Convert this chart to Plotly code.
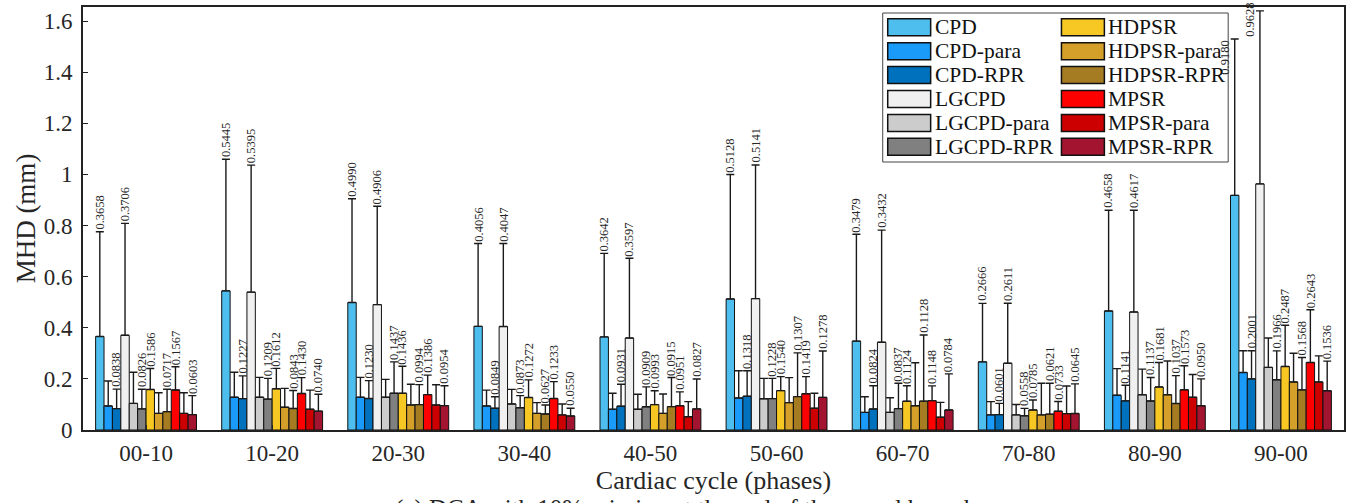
import plotly.graph_objects as go

categories = ["00-10", "10-20", "20-30", "30-40", "40-50", "50-60", "60-70", "70-80", "80-90", "90-00"]

series_names = ["CPD", "CPD-para", "CPD-RPR", "LGCPD", "LGCPD-para", "LGCPD-RPR",
                "HDPSR", "HDPSR-para", "HDPSR-RPR", "MPSR", "MPSR-para", "MPSR-RPR"]

series_colors = ["#4DBEEE", "#1A9BFA", "#0072BD", "#F0F0F0", "#CCCCCC", "#808080",
                 "#F7C823", "#D4A02A", "#A67C22", "#FF0000", "#CC0000", "#A2142F"]

# mean MHD values (bar heights)
cpd        = [0.3658, 0.5445, 0.4990, 0.4056, 0.3642, 0.5128, 0.3479, 0.2666, 0.4658, 0.9180]
cpd_para   = [0.094, 0.128, 0.128, 0.094, 0.081, 0.125, 0.069, 0.059, 0.136, 0.225]
cpd_rpr    = [0.0838, 0.1227, 0.1230, 0.0849, 0.0931, 0.1318, 0.0824, 0.0601, 0.1141, 0.2001]
lgcpd      = [0.3706, 0.5395, 0.4906, 0.4047, 0.3597, 0.5141, 0.3432, 0.2611, 0.4617, 0.9628]
lgcpd_para = [0.104, 0.128, 0.128, 0.102, 0.081, 0.122, 0.069, 0.059, 0.138, 0.245]
lgcpd_rpr  = [0.0826, 0.1209, 0.1437, 0.0873, 0.0909, 0.1228, 0.0837, 0.0558, 0.1137, 0.1966]
hdpsr      = [0.1586, 0.1612, 0.1436, 0.1272, 0.0993, 0.1540, 0.1124, 0.0785, 0.1681, 0.2487]
hdpsr_para = [0.065, 0.089, 0.098, 0.065, 0.065, 0.107, 0.095, 0.059, 0.138, 0.188]
hdpsr_rpr  = [0.0717, 0.0843, 0.0994, 0.0627, 0.0915, 0.1307, 0.1128, 0.0621, 0.1037, 0.1568]
mpsr       = [0.1567, 0.1430, 0.1386, 0.1233, 0.0951, 0.1419, 0.1148, 0.0733, 0.1573, 0.2643]
mpsr_para  = [0.065, 0.081, 0.098, 0.059, 0.052, 0.085, 0.050, 0.064, 0.128, 0.188]
mpsr_rpr   = [0.0603, 0.0740, 0.0954, 0.0550, 0.0827, 0.1278, 0.0784, 0.0645, 0.0950, 0.1536]

# standard deviations (upper error bars)
cpd_sd        = [0.410, 0.515, 0.406, 0.324, 0.327, 0.487, 0.418, 0.229, 0.394, 0.612]
cpd_para_sd   = [0.098, 0.098, 0.078, 0.062, 0.063, 0.107, 0.061, 0.052, 0.104, 0.085]
cpd_rpr_sd    = [0.076, 0.089, 0.070, 0.045, 0.086, 0.100, 0.091, 0.044, 0.061, 0.110]
lgcpd_sd      = [0.438, 0.497, 0.385, 0.325, 0.312, 0.523, 0.439, 0.235, 0.398, 0.677]
lgcpd_para_sd = [0.122, 0.078, 0.070, 0.057, 0.059, 0.080, 0.057, 0.041, 0.100, 0.115]
lgcpd_rpr_sd  = [0.077, 0.081, 0.123, 0.047, 0.078, 0.079, 0.099, 0.029, 0.092, 0.113]
hdpsr_sd      = [0.082, 0.080, 0.106, 0.069, 0.054, 0.055, 0.061, 0.039, 0.096, 0.161]
hdpsr_para_sd = [0.081, 0.074, 0.081, 0.042, 0.076, 0.098, 0.168, 0.124, 0.132, 0.112]
hdpsr_rpr_sd  = [0.088, 0.070, 0.078, 0.035, 0.114, 0.171, 0.259, 0.121, 0.109, 0.127]
mpsr_sd       = [0.091, 0.062, 0.076, 0.066, 0.054, 0.067, 0.058, 0.038, 0.094, 0.206]
mpsr_para_sd  = [0.081, 0.075, 0.079, 0.043, 0.059, 0.059, 0.058, 0.108, 0.089, 0.102]
mpsr_rpr_sd   = [0.074, 0.066, 0.078, 0.030, 0.117, 0.181, 0.141, 0.116, 0.105, 0.116]

means = [cpd, cpd_para, cpd_rpr, lgcpd, lgcpd_para, lgcpd_rpr,
         hdpsr, hdpsr_para, hdpsr_rpr, mpsr, mpsr_para, mpsr_rpr]
sds = [cpd_sd, cpd_para_sd, cpd_rpr_sd, lgcpd_sd, lgcpd_para_sd, lgcpd_rpr_sd,
       hdpsr_sd, hdpsr_para_sd, hdpsr_rpr_sd, mpsr_sd, mpsr_para_sd, mpsr_rpr_sd]

labeled = [True, False, True, True, False, True, True, False, True, True, False, True]

y_ticks = [0, 0.2, 0.4, 0.6, 0.8, 1.0, 1.2, 1.4, 1.6]
y_tick_text = ["0", "0.2", "0.4", "0.6", "0.8", "1", "1.2", "1.4", "1.6"]

FONT = "Liberation Serif, Times New Roman, serif"
TXT = "#262626"

# layout geometry (pixels)
W, H = 1349, 503
ML, MR, MT, MB = 83, 3, 7, 73
PW = W - ML - MR
PH = H - MT - MB
Y_MAX = 1.655


def px_x(p):
    return (p - ML) / PW


def px_y(p):
    return (H - MB - p) / PH


fig = go.Figure()
for name, color, m, s in zip(series_names, series_colors, means, sds):
    fig.add_trace(go.Bar(
        x=categories, y=m, name=name,
        marker=dict(color=color, line=dict(color="#111111", width=1)),
        error_y=dict(type="data", array=s, arrayminus=[0] * len(s), symmetric=False,
                     color="#1a1a1a", thickness=1.4, width=4),
        showlegend=False,
    ))

n = len(series_names)
group_w = 0.8
bw = group_w / n
annotations = []
for j in range(n):
    if not labeled[j]:
        continue
    for i in range(len(categories)):
        xc = i - group_w / 2 + (j + 0.5) * bw
        top = means[j][i] + sds[j][i]
        txt = "%.4f" % means[j][i]
        if top + 0.14 > Y_MAX:
            annotations.append(dict(x=xc, y=top, xref="x", yref="y", text=txt, textangle=-90,
                                    showarrow=False, xanchor="right", yanchor="top", xshift=-1,
                                    yshift=10 if top > 1.6 else 0,
                                    font=dict(family=FONT, size=12.5, color=TXT)))
        else:
            annotations.append(dict(x=xc, y=top, xref="x", yref="y", text=txt, textangle=-90,
                                    showarrow=False, xanchor="center", yanchor="bottom",
                                    font=dict(family=FONT, size=12.5, color=TXT)))

# manual legend (two columns)
shapes = []
leg_x0, leg_x1, leg_y0, leg_y1 = 884, 1230, 13, 162
shapes.append(dict(type="rect", xref="paper", yref="paper",
                   x0=px_x(leg_x0), x1=px_x(leg_x1), y0=px_y(leg_y1), y1=px_y(leg_y0),
                   fillcolor="white", line=dict(color="#444444", width=1)))
col_sw_x = [889, 1063]
sw_w, sw_h = 43, 17
row0, pitch = 27.3, 23.9
for k, (name, color) in enumerate(zip(series_names, series_colors)):
    col, row = divmod(k, 6)
    cy = row0 + row * pitch
    sx = col_sw_x[col]
    shapes.append(dict(type="rect", xref="paper", yref="paper",
                       x0=px_x(sx), x1=px_x(sx + sw_w), y0=px_y(cy + sw_h / 2), y1=px_y(cy - sw_h / 2),
                       fillcolor=color, line=dict(color="#111111", width=1.5)))
    annotations.append(dict(x=px_x(sx + sw_w + 2), y=px_y(cy), xref="paper", yref="paper",
                            text=name, showarrow=False, xanchor="left", yanchor="middle",
                            font=dict(family=FONT, size=21.5, color="#111111")))

# caption (partially cut off at the bottom of the image, as in the reference)
annotations.append(dict(x=px_x(393), y=px_y(493), xref="paper", yref="paper",
                        text="(a) DCA with 10% missing at the end of the vessel branch",
                        showarrow=False, xanchor="left", yanchor="top",
                        font=dict(family=FONT, size=25, color=TXT)))

fig.update_layout(
    width=W, height=H,
    margin=dict(l=ML, r=MR, t=MT, b=MB, pad=0),
    paper_bgcolor="white", plot_bgcolor="white",
    barmode="group", bargap=0.2, bargroupgap=0,
    showlegend=False,
    font=dict(family=FONT, color=TXT),
    annotations=annotations,
    shapes=shapes,
)
fig.update_xaxes(
    type="category", range=[-0.5, len(categories) - 0.5],
    showline=True, linecolor="#222222", linewidth=2, mirror=True,
    ticks="inside", ticklen=5, tickcolor="#222222", ticklabelstandoff=1,
    tickfont=dict(family=FONT, size=23, color=TXT),
    title=dict(text="Cardiac cycle (phases)", font=dict(family=FONT, size=26, color=TXT), standoff=0),
    showgrid=False, zeroline=False,
)
fig.update_yaxes(
    range=[0, Y_MAX], tickvals=y_ticks, ticktext=y_tick_text,
    showline=True, linecolor="#222222", linewidth=2, mirror=True,
    ticks="inside", ticklen=5, tickcolor="#222222", ticklabelstandoff=4,
    tickfont=dict(family=FONT, size=23, color=TXT),
    title=dict(text="MHD (mm)", font=dict(family=FONT, size=27, color=TXT), standoff=0),
    showgrid=False, zeroline=False,
)

fig.write_html("out.html")
